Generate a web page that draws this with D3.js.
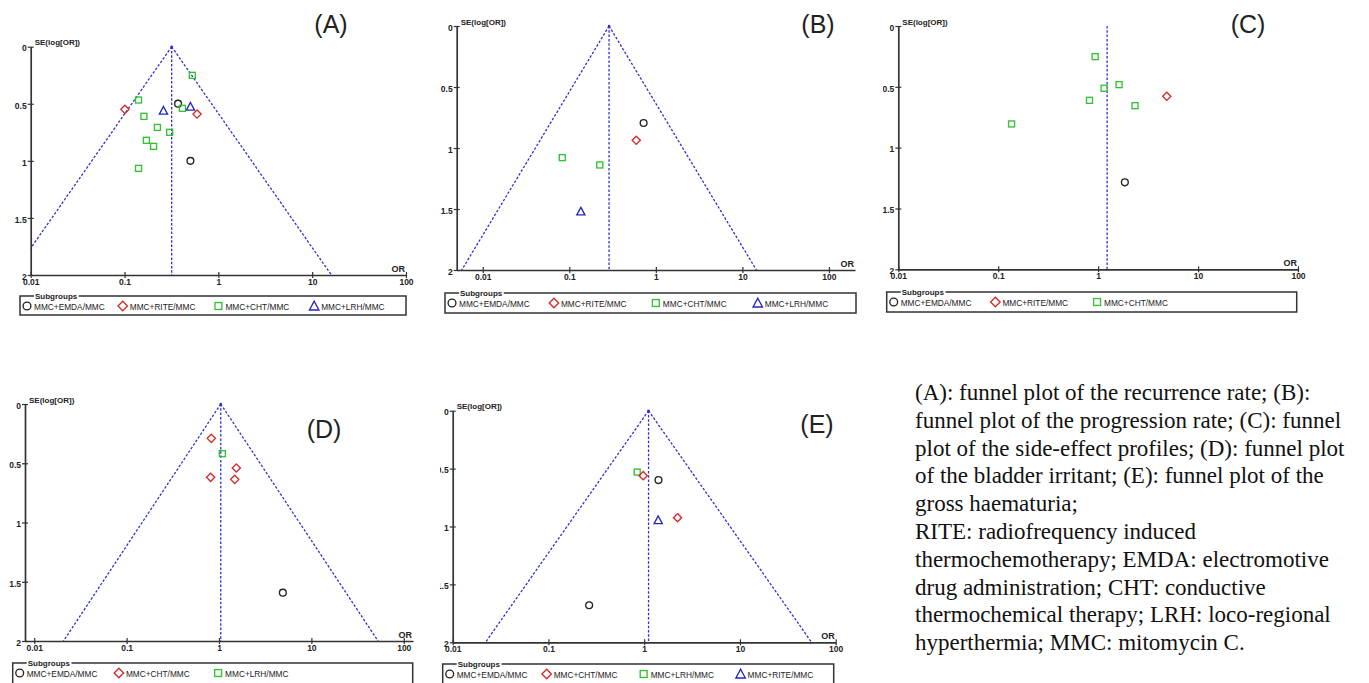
<!DOCTYPE html>
<html>
<head>
<meta charset="utf-8">
<script src="https://cdn.jsdelivr.net/npm/d3@7"></script>
<style>
  body { margin: 0; background: #fff; }
  svg { display: block; }
  .tick text { font-family: "Liberation Sans", Arial, sans-serif; font-weight: bold; font-size: 8.5px; fill: #222; }
</style>
</head>
<body>
<div id="chart"></div>
<script>
// subgroup names, in legend order (order picks the marker: circle, diamond, square, triangle)
const groupsA = ["MMC+EMDA/MMC", "MMC+RITE/MMC", "MMC+CHT/MMC", "MMC+LRH/MMC"];
const groupsB = ["MMC+EMDA/MMC", "MMC+RITE/MMC", "MMC+CHT/MMC", "MMC+LRH/MMC"];
const groupsC = ["MMC+EMDA/MMC", "MMC+RITE/MMC", "MMC+CHT/MMC"];
const groupsD = ["MMC+EMDA/MMC", "MMC+CHT/MMC", "MMC+LRH/MMC"];
const groupsE = ["MMC+EMDA/MMC", "MMC+CHT/MMC", "MMC+LRH/MMC", "MMC+RITE/MMC"];

// studies: [subgroup index, OR, SE(log OR)]
const studiesA = [
  [2, 0.528, 0.251], [2, 0.141, 0.467], [1, 0.101, 0.549], [0, 0.372, 0.499],
  [3, 0.504, 0.525], [2, 0.414, 0.54], [3, 0.26, 0.56], [1, 0.593, 0.59],
  [2, 0.161, 0.61], [2, 0.224, 0.707], [2, 0.303, 0.75], [2, 0.171, 0.82],
  [2, 0.204, 0.873], [0, 0.504, 1.0], [2, 0.141, 1.066]
];
const studiesB = [
  [0, 0.722, 0.795], [1, 0.594, 0.937], [2, 0.083, 1.079], [2, 0.225, 1.139], [3, 0.136, 1.52]
];
const studiesC = [
  [2, 0.933, 0.252], [2, 1.62, 0.482], [2, 1.148, 0.512], [1, 4.86, 0.578],
  [2, 0.819, 0.611], [2, 2.34, 0.655], [2, 0.136, 0.805], [0, 1.85, 1.285]
];
const studiesD = [
  [1, 0.826, 0.29], [2, 1.087, 0.419], [1, 1.54, 0.54], [1, 0.812, 0.619],
  [1, 1.48, 0.636], [0, 4.91, 1.592]
];
const studiesE = [
  [2, 0.845, 0.53], [1, 0.976, 0.561], [0, 1.41, 0.599], [1, 2.23, 0.924],
  [3, 1.4, 0.945], [0, 0.266, 1.68]
];

// pooled OR (funnel apex)
const pooledA = 0.318, pooledB = 0.288, pooledC = 1.23, pooledD = 1.045, pooledE = 1.11;

const yTicks = [0, 0.5, 1, 1.5, 2];
const xTicks = [0.01, 0.1, 1, 10, 100];

const captionLines = [
  "(A): funnel plot of the recurrence rate; (B):",
  "funnel plot of the progression rate; (C): funnel",
  "plot of the side-effect profiles; (D): funnel plot",
  "of the bladder irritant; (E): funnel plot of the",
  "gross haematuria;",
  "RITE: radiofrequency induced",
  "thermochemotherapy; EMDA: electromotive",
  "drug administration; CHT: conductive",
  "thermochemical therapy; LRH: loco-regional",
  "hyperthermia; MMC: mitomycin C."
];

const colors = ["#222222", "#d42a2a", "#33c233", "#2424c4"];
const funnelColor = "#2f2fd0";
const axisColor = "#333";
const sans = '"Liberation Sans", Arial, sans-serif';

const panels = [
  { tag: "(A)", groups: groupsA, studies: studiesA, pooled: pooledA, funnel: true,
    xDom: [0.01, 100], xr: [30.7, 406], yr: [46.7, 275], title: [331, 33],
    legend: { x: 20, y: 296, w: 386, h: 19 } },
  { tag: "(B)", groups: groupsB, studies: studiesB, pooled: pooledB, funnel: true,
    xDom: [0.005, 200], xr: [456.7, 855], yr: [26, 270], title: [818, 33],
    legend: { x: 445, y: 293, w: 411, h: 20 } },
  { tag: "(C)", groups: groupsC, studies: studiesC, pooled: pooledC, funnel: false,
    xDom: [0.01, 100], xr: [898.3, 1298], yr: [26, 269.3], title: [1248, 33],
    legend: { x: 886.7, y: 292, w: 410, h: 20 }, clipX: 883 },
  { tag: "(D)", groups: groupsD, studies: studiesD, pooled: pooledD, funnel: true,
    xDom: [Math.pow(10, -2.1), Math.pow(10, 2.1)], xr: [25, 413], yr: [404, 641], title: [324, 438],
    legend: { x: 12.7, y: 663, w: 400, h: 30 } },
  { tag: "(E)", groups: groupsE, studies: studiesE, pooled: pooledE, funnel: true,
    xDom: [0.01, 100], xr: [452.7, 835.7], yr: [410.7, 642.3], title: [817, 433],
    legend: { x: 442.7, y: 664, w: 391, h: 30 }, clipX: 440 }
];

const W = 1369, H = 683;
const svg = d3.select("#chart").append("svg")
  .attr("width", W).attr("height", H);
const defs = svg.append("defs");

// marker shapes, centred on 0,0
function drawMarker(g, i, s) {
  const c = colors[i];
  if (i === 0) {
    g.append("circle").attr("r", 3.4 * s);
  } else if (i === 1) {
    const r = 4.1 * s;
    g.append("path").attr("d", `M0,${-r}L${r},0L0,${r}L${-r},0Z`);
  } else if (i === 2) {
    const r = 3 * s;
    g.append("rect").attr("x", -r).attr("y", -r).attr("width", 2 * r).attr("height", 2 * r);
  } else {
    const r = 4.1 * s;
    g.append("path").attr("d", `M0,${-r}L${r},${r * 0.85}L${-r},${r * 0.85}Z`);
  }
  g.selectAll("*").attr("fill", "none").attr("stroke", c).attr("stroke-width", 1.35);
}

panels.forEach((p, k) => {
  let root = svg.append("g");
  if (p.clipX !== undefined) {
    defs.append("clipPath").attr("id", "pc" + k)
      .append("rect").attr("x", p.clipX).attr("y", 0).attr("width", W).attr("height", H);
    root.attr("clip-path", `url(#pc${k})`);
  }

  const x = d3.scaleLog().domain(p.xDom).range(p.xr);
  const y = d3.scaleLinear().domain([0, 2]).range(p.yr);

  // funnel lines (clipped to the plot area)
  defs.append("clipPath").attr("id", "fc" + k)
    .append("rect").attr("x", p.xr[0]).attr("y", p.yr[0] - 2)
    .attr("width", p.xr[1] - p.xr[0]).attr("height", p.yr[1] - p.yr[0] + 2);
  const fg = root.append("g").attr("clip-path", `url(#fc${k})`)
    .attr("stroke", funnelColor).attr("stroke-width", 1.3)
    .attr("stroke-dasharray", "2.5,1.8").attr("fill", "none");
  const line = d3.line().x(d => x(d[0])).y(d => y(d[1]));
  fg.append("path").attr("d", line([[p.pooled, 0], [p.pooled, 2]]));
  if (p.funnel) {
    const spread = Math.exp(1.96 * 2);
    fg.append("path").attr("d", line([[p.pooled, 0], [p.pooled / spread, 2]]));
    fg.append("path").attr("d", line([[p.pooled, 0], [p.pooled * spread, 2]]));
    root.append("circle").attr("cx", x(p.pooled)).attr("cy", y(0)).attr("r", 1.3).attr("fill", funnelColor);
  }

  // axes
  const yAxis = root.append("g")
    .attr("transform", `translate(${p.xr[0]},0)`)
    .call(d3.axisLeft(y).tickValues(yTicks).tickSize(3).tickSizeOuter(0).tickPadding(1)
      .tickFormat(d3.format("")));
  const xAxis = root.append("g")
    .attr("transform", `translate(0,${p.yr[1]})`)
    .call(d3.axisBottom(x).tickValues(xTicks).tickSize(3).tickSizeOuter(0).tickPadding(1)
      .tickFormat(d => String(d)));
  [yAxis, xAxis].forEach(a => {
    a.select(".domain").attr("stroke", axisColor).attr("stroke-width", 1.7);
    a.selectAll(".tick line").attr("stroke", axisColor).attr("stroke-width", 1.2);
  });
  yAxis.selectAll(".tick line").attr("x1", 3);
  yAxis.selectAll(".tick text").attr("dy", "0.5em");
  xAxis.selectAll(".tick line").attr("y1", -3);

  root.append("text").attr("x", p.xr[0] + 4).attr("y", p.yr[0] - 1.5)
    .attr("font-family", sans).attr("font-weight", "bold").attr("font-size", 8).attr("fill", "#222")
    .text("SE(log[OR])");
  root.append("text").attr("x", p.xr[1] - 1).attr("y", p.yr[1] - 3).attr("text-anchor", "end")
    .attr("font-family", sans).attr("font-weight", "bold").attr("font-size", 9).attr("fill", "#222")
    .text("OR");

  // studies
  root.append("g").selectAll("g")
    .data(p.studies).enter().append("g")
    .attr("transform", d => `translate(${x(d[1])},${y(d[2])})`)
    .each(function(d) { drawMarker(d3.select(this), d[0], 1); });

  // panel tag
  root.append("text").attr("x", p.title[0]).attr("y", p.title[1]).attr("text-anchor", "middle")
    .attr("font-family", sans).attr("font-size", 25).attr("fill", "#222")
    .text(p.tag);

  // legend
  const L = p.legend;
  const lg = root.append("g");
  lg.append("rect").attr("x", L.x).attr("y", L.y).attr("width", L.w).attr("height", L.h)
    .attr("fill", "none").attr("stroke", axisColor).attr("stroke-width", 1.5);
  const sub = lg.append("text").attr("x", L.x + 15).attr("y", L.y + 3)
    .attr("font-family", sans).attr("font-weight", "bold").attr("font-size", 8).attr("fill", "#222")
    .text("Subgroups");
  const bb = sub.node().getBBox();
  lg.insert("rect", "text").attr("x", bb.x - 1).attr("y", L.y - 2).attr("width", bb.width + 2).attr("height", 4)
    .attr("fill", "#fff");
  const step = L.w * 0.248;
  p.groups.forEach((name, i) => {
    const gx = L.x + 7 + i * step;
    const m = lg.append("g").attr("transform", `translate(${gx},${L.y + 10})`);
    drawMarker(m, i, 1.15);
    lg.append("text").attr("x", gx + 7).attr("y", L.y + 14)
      .attr("font-family", sans).attr("font-size", 8.3).attr("fill", "#222")
      .text(name);
  });
});

// caption
svg.append("g").selectAll("text")
  .data(captionLines).enter().append("text")
  .attr("x", 915)
  .attr("y", (d, i) => 400 + i * 27.8)
  .attr("font-family", '"Liberation Serif", "Times New Roman", serif')
  .attr("font-size", 23).attr("fill", "#111")
  .text(d => d);
</script>
</body>
</html>
